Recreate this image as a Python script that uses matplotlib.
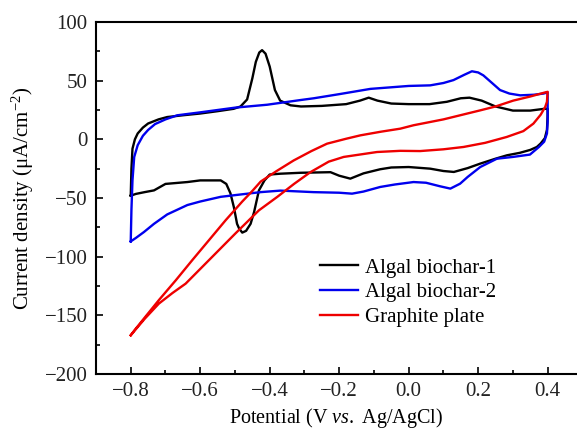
import matplotlib
matplotlib.use("Agg")
import matplotlib.pyplot as plt
from matplotlib.ticker import MultipleLocator

plt.rcParams['font.family'] = ['Liberation Serif', 'DejaVu Serif']
plt.rcParams['mathtext.fontset'] = 'custom'
plt.rcParams['mathtext.rm'] = 'Liberation Serif'
plt.rcParams['mathtext.it'] = 'Liberation Serif:italic'

# Algal biochar-1 (black), closed CV loop
bio1_v = [-0.800, -0.798, -0.795, -0.788, -0.780, -0.765, -0.750, -0.720, -0.695, -0.650,
          -0.600, -0.550, -0.504, -0.484, -0.465, -0.450, -0.440, -0.430, -0.422, -0.412,
          -0.400, -0.385, -0.370, -0.340, -0.310, -0.250, -0.180, -0.140, -0.115, -0.090,
          -0.050, 0.000, 0.060, 0.110, 0.150, 0.175, 0.210, 0.250, 0.300, 0.350,
          0.390, 0.400,
          0.400, 0.398, 0.392, 0.380, 0.369, 0.350, 0.320, 0.283, 0.250, 0.206,
          0.170, 0.130, 0.100, 0.062, 0.000, -0.050, -0.082, -0.130, -0.168, -0.200,
          -0.225, -0.311, -0.370, -0.400, -0.415, -0.431, -0.445, -0.455, -0.468, -0.479,
          -0.488, -0.494, -0.503, -0.513, -0.525, -0.541, -0.600, -0.637, -0.700, -0.733,
          -0.760, -0.785, -0.800]
bio1_j = [-48, -25, -8, 0, 5, 10, 13.5, 17, 19, 20.5,
          22, 24, 26, 28, 34, 52, 66, 74, 76, 73,
          62, 42, 33, 29, 28, 28.5, 30, 33, 35.5, 33,
          30.5, 30, 30, 32, 35, 35.5, 33, 28, 24.5, 24.5,
          26, 26,
          20, 8, 1, -3.5, -6.5, -9, -11.5, -13.6, -16.5, -20.7,
          -24.5, -27.8, -27, -25, -23.6, -24, -25.5, -29, -33.5, -31,
          -28, -28.5, -29.3, -30, -35, -43.5, -62, -72, -78, -79.5,
          -76, -72, -58, -46, -38, -35, -35, -36.4, -38, -43.5,
          -45, -46.5, -48]

# Algal biochar-2 (blue), closed CV loop
bio2_v = [-0.800, -0.798, -0.795, -0.790, -0.780, -0.765, -0.750, -0.730, -0.700, -0.666,
          -0.600, -0.550, -0.500, -0.407, -0.311, -0.273, -0.200, -0.110, 0.000, 0.062,
          0.100, 0.129, 0.160, 0.182, 0.200, 0.215, 0.240, 0.263, 0.290, 0.321,
          0.360, 0.388, 0.400,
          0.400, 0.400, 0.398, 0.390, 0.375, 0.349, 0.300, 0.254, 0.206, 0.170,
          0.148, 0.120, 0.090, 0.050, 0.014, -0.040, -0.082, -0.130, -0.163, -0.200,
          -0.274, -0.369, -0.426, -0.504, -0.541, -0.600, -0.637, -0.695, -0.733, -0.762,
          -0.785, -0.800]
bio2_j = [-87, -60, -35, -15, -5, 3, 8, 13, 17, 20.5,
          23, 25, 27, 29.5, 33.5, 35, 38.5, 43, 45.5, 46,
          48, 50.5, 55, 58, 57, 54.5, 48, 42, 39, 37.5,
          38, 39, 40,
          30, 15, 5, -2, -6.5, -13, -15, -16.5, -23.6, -32,
          -37.8, -42, -40, -37, -36.4, -38.5, -40.6, -44.5, -46.3, -45.5,
          -45, -43.7, -45, -47.7, -49, -53, -56, -64, -72, -79,
          -84, -87]

# Graphite plate (red), closed CV loop
graph_v = [-0.800, -0.790, -0.760, -0.719, -0.670, -0.623, -0.575, -0.527, -0.479, -0.450,
           -0.426, -0.380, -0.331, -0.280, -0.235, -0.180, -0.139, -0.080, -0.024, 0.014,
           0.100, 0.206, 0.250, 0.301, 0.350, 0.393, 0.400,
           0.398, 0.393, 0.380, 0.359, 0.330, 0.282, 0.220, 0.158, 0.100, 0.033,
           -0.024, -0.091, -0.187, -0.230, -0.283, -0.330, -0.378, -0.431, -0.498, -0.575,
           -0.642, -0.680, -0.719, -0.760, -0.800]
graph_j = [-167, -163, -152, -137, -120, -103, -86, -69, -53, -44,
           -36, -27, -18, -10, -3.7, 0.5, 3.4, 6.5, 9.1, 12,
           17, 24.7, 28, 33, 36.5, 40, 40.5,
           32, 27.6, 21, 13.4, 7, 2, -3, -6.5, -8.5, -10,
           -9.8, -10.8, -15, -19, -28, -38, -49, -60.5, -80, -103,
           -123, -131, -140, -153, -167]

labels = ['Algal biochar-1', 'Algal biochar-2', 'Graphite plate']
colors = ['black', '#0000ee', '#ee0000']

fig = plt.figure(figsize=(5.77, 4.30), dpi=100)
ax = fig.add_axes([96 / 577, 56 / 430, 481 / 577, 352 / 430])

ax.plot(bio1_v, bio1_j, color=colors[0], lw=1.7, label=labels[0])
ax.plot(bio2_v, bio2_j, color=colors[1], lw=1.7, label=labels[1])
ax.plot(graph_v, graph_j, color=colors[2], lw=1.7, label=labels[2])

ax.set_xlim(-0.9, 0.4845)
ax.set_ylim(-200, 100)
ax.xaxis.set_minor_locator(MultipleLocator(0.1))
ax.yaxis.set_major_locator(MultipleLocator(50))
ax.yaxis.set_minor_locator(MultipleLocator(25))
ax.set_xticks([-0.8, -0.6, -0.4, -0.2, 0.0, 0.2, 0.4])
ax.set_xticklabels(['\u22120.8', '\u22120.6', '\u22120.4', '\u22120.2', '0.0', '0.2', '0.4'])
ax.tick_params(which='both', direction='in', top=False, right=False,
               labelsize=15, labelcolor='#222222', width=1.2, pad=6)
ax.tick_params(which='major', length=5)
ax.tick_params(which='minor', length=3)
ax.spines['right'].set_visible(False)
for s in ['left', 'bottom', 'top']:
    ax.spines[s].set_linewidth(1.5)

ax.set_xlabel('Potential (V $\\it{vs.}$ Ag/AgCl)', fontsize=14.5, labelpad=3)
ax.set_ylabel('Current density (\u03bcA/cm$^{-2}$)', fontsize=15, labelpad=6)

ax.legend(loc='upper left', bbox_to_anchor=(320 / 577, 1 - 258 / 430),
          bbox_transform=fig.transFigure, frameon=False, fontsize=15,
          borderpad=0, borderaxespad=0, handlelength=1.8, handletextpad=0.38,
          labelspacing=0.25)

fig.savefig('out.png', dpi=100)
